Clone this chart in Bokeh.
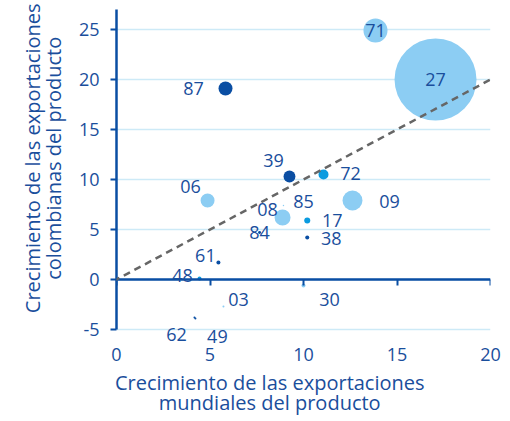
import numpy as np
from bokeh.plotting import figure
from bokeh.models import ColumnDataSource, LinearAxis, FixedTicker, Slope, LabelSet
from bokeh.embed import file_html
from bokeh.resources import INLINE
from bokeh.core.properties import value

# Data
codigos = ["27", "71", "87", "39", "72", "06", "09", "08", "85", "17", "84", "38", "61", "48", "30", "03", "62", "49"]
crec_mundial = [17.06, 13.85, 5.83, 9.25, 11.07, 4.87, 12.62, 8.88, 8.93, 10.2, 7.65, 10.2, 5.45, 4.44, 10.0, 5.72, 4.17, 4.22]
crec_colombia = [20.0, 24.9, 19.1, 10.3, 10.5, 7.9, 7.9, 6.2, 7.4, 5.9, 4.7, 4.2, 1.7, 0.1, -0.6, -2.7, -3.8, -3.9]
peso = [100, 8.6, 2.9, 2.1, 1.5, 2.9, 5.9, 3.8, 0.03, 0.54, 0.13, 0.24, 0.24, 0.24, 0.24, 0.06, 0.06, 0.06]
grupo = ["claro", "claro", "oscuro", "oscuro", "medio", "claro", "claro", "claro", "claro", "medio", "oscuro", "oscuro", "oscuro", "medio", "claro", "claro", "oscuro", "oscuro"]
y_ticks = [-5, 0, 5, 10, 15, 20, 25]
x_ticks = [0, 5, 10, 15, 20]
titulo_x = ["Crecimiento de las exportaciones", "mundiales del producto"]
titulo_y = ["Crecimiento de las exportaciones", "colombianas del producto"]

DARK = "#0a4ea3"
MID = "#0a9be0"
LIGHT = "#8ccdf3"
TEXT = "#1a4e9c"
GRID = "#cdeaf7"
FONT = "Open Sans"
NB = "\u00a0"
color_map = {"claro": LIGHT, "medio": MID, "oscuro": DARK}

# label offsets in px (right, up) from the point centre
lab_off = {
    "27": (0, 0), "71": (0, 0), "87": (-32, 0), "39": (-16, 16), "72": (27, 1),
    "06": (-17, 14), "09": (37, -1), "08": (-15, 8), "85": (20, 4), "17": (25, 0),
    "84": (0, 0), "38": (24, -1), "61": (-13, 7), "48": (-17, 3), "30": (26, -14),
    "03": (15, 7), "62": (-18, -17), "49": (22, -18),
}

diam = [82 * np.sqrt(w / 100.0) for w in peso]
src = ColumnDataSource(dict(
    x=crec_mundial, y=crec_colombia, code=codigos,
    d=diam, c=[color_map[g] for g in grupo],
    dx=[lab_off[k][0] for k in codigos],
    dy=[lab_off[k][1] for k in codigos],
))

Y_LO, Y_HI = -5, 27
p = figure(width=502, height=421, x_range=(0, 20), y_range=(-6.4, Y_HI),
           output_backend="svg", toolbar_location=None,
           min_border_left=116, min_border_right=12, min_border_top=9, min_border_bottom=78)
p.outline_line_color = None
p.background_fill_color = "white"
p.xgrid.grid_line_color = None
p.ygrid.grid_line_color = GRID
p.ygrid.grid_line_width = 1.5
p.ygrid.ticker = FixedTicker(ticks=y_ticks)

# y axis (line only from -5 up)
p.yaxis.ticker = FixedTicker(ticks=y_ticks)
p.yaxis.bounds = (Y_LO, Y_HI)
p.yaxis.axis_line_color = DARK
p.yaxis.axis_line_width = 2.5
p.yaxis.major_tick_line_color = DARK
p.yaxis.major_tick_line_width = 2
p.yaxis.major_tick_out = 6
p.yaxis.major_tick_in = 0
p.yaxis.minor_tick_line_color = None
p.yaxis.major_label_text_color = TEXT
p.yaxis.major_label_text_font = FONT
p.yaxis.major_label_text_font_size = "18px"
p.yaxis.major_label_standoff = 11
p.yaxis.major_label_overrides = {t: str(t) for t in y_ticks}

# y title axis (text shifted upward with leading non-breaking spaces)
ytitle = LinearAxis(ticker=FixedTicker(ticks=[]), axis_line_color=None,
                    major_tick_line_color=None, minor_tick_line_color=None,
                    major_label_text_font_size="0px", major_label_standoff=0)
ytitle.axis_label = "\n".join(NB * 7 + t for t in titulo_y)
ytitle.axis_label_text_color = TEXT
ytitle.axis_label_text_font = FONT
ytitle.axis_label_text_font_size = "20px"
ytitle.axis_label_text_font_style = "normal"
ytitle.axis_label_text_line_height = 0.77
ytitle.axis_label_standoff = 9
p.add_layout(ytitle, "left")

# bottom axis: tick labels only
p.xaxis.ticker = FixedTicker(ticks=x_ticks)
p.xaxis.axis_line_color = None
p.xaxis.major_tick_line_color = None
p.xaxis.minor_tick_line_color = None
p.xaxis.major_label_text_color = TEXT
p.xaxis.major_label_text_font = FONT
p.xaxis.major_label_text_font_size = "18px"
p.xaxis.major_label_standoff = -2

# x title axis (text shifted left with trailing non-breaking spaces)
xtitle = LinearAxis(ticker=FixedTicker(ticks=[]), axis_line_color=None,
                    major_tick_line_color=None, minor_tick_line_color=None,
                    major_label_text_font_size="0px", major_label_standoff=0)
xtitle.axis_label = "\n".join(t + NB * 13 for t in titulo_x)
xtitle.axis_label_text_color = TEXT
xtitle.axis_label_text_font = FONT
xtitle.axis_label_text_font_size = "20px"
xtitle.axis_label_text_font_style = "normal"
xtitle.axis_label_text_line_height = 0.77
xtitle.axis_label_standoff = 5
p.add_layout(xtitle, "below")

# axis line at y = 0 (ticks pointing down)
zero_axis = LinearAxis(fixed_location=0, ticker=FixedTicker(ticks=x_ticks))
zero_axis.axis_line_color = DARK
zero_axis.axis_line_width = 2.5
zero_axis.major_tick_line_color = DARK
zero_axis.major_tick_line_width = 2
zero_axis.major_tick_out = 0
zero_axis.major_tick_in = 6
zero_axis.minor_tick_line_color = None
zero_axis.major_label_text_font_size = "0px"
zero_axis.major_label_text_alpha = 0
zero_axis.major_label_standoff = 0
p.add_layout(zero_axis, "above")

p.scatter("x", "y", size="d", fill_color="c", line_color=None, source=src)

# 45 degree reference line
p.add_layout(Slope(gradient=1, y_intercept=0, line_color="#666666",
                   line_width=2.5, line_dash="7 5"))

labels = LabelSet(x="x", y="y", text="code", x_offset="dx", y_offset="dy", source=src,
                  text_align="center", text_baseline="middle", text_color=TEXT,
                  text_font=value(FONT), text_font_size="18px")
p.add_layout(labels)

open("out.html", "w").write(file_html(p, INLINE))
